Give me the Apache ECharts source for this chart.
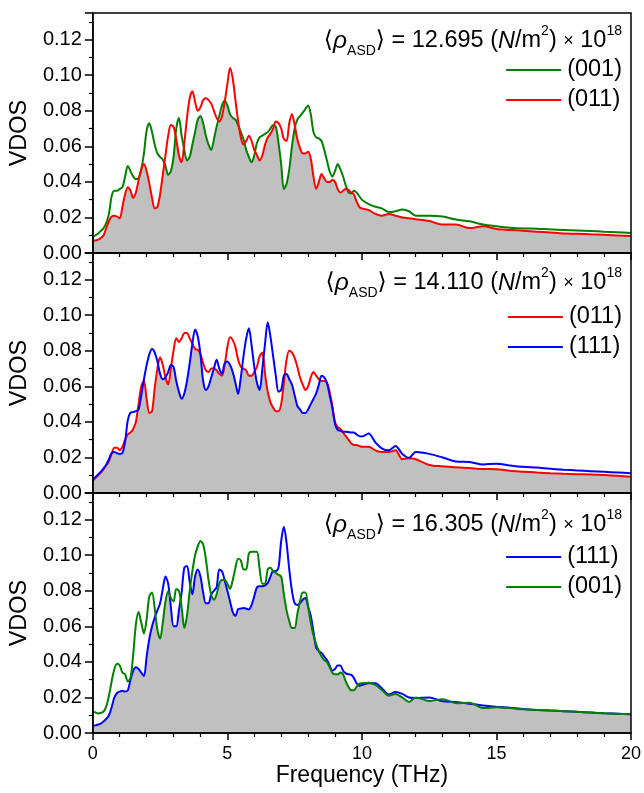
<!DOCTYPE html>
<html>
<head>
<meta charset="utf-8">
<script src="https://cdn.jsdelivr.net/npm/echarts@6/dist/echarts.min.js"></script>
<style>
html, body { margin: 0; padding: 0; background: #fff; }
#main { width: 644px; height: 793px; }
</style>
</head>
<body>
<div id="main"></div>
<script>
// frequency grid (THz), shared by every curve
const freq = [
  0, 0.1, 0.2, 0.3, 0.4, 0.5, 0.6, 0.7, 0.8, 0.9,
  1.0, 1.1, 1.2, 1.3, 1.4, 1.5, 1.6, 1.7, 1.8, 1.9,
  2.0, 2.1, 2.2, 2.3, 2.4, 2.5, 2.6, 2.7, 2.8, 2.9,
  3.0, 3.1, 3.2, 3.3, 3.4, 3.5, 3.6, 3.7, 3.8, 3.9,
  4.0, 4.1, 4.2, 4.3, 4.4, 4.5, 4.6, 4.7, 4.8, 4.9,
  5.0, 5.1, 5.2, 5.3, 5.4, 5.5, 5.6, 5.7, 5.8, 5.9,
  6.0, 6.1, 6.2, 6.3, 6.4, 6.5, 6.6, 6.7, 6.8, 6.9,
  7.0, 7.1, 7.2, 7.3, 7.4, 7.5, 7.6, 7.7, 7.8, 7.9,
  8.0, 8.1, 8.2, 8.3, 8.4, 8.5, 8.6, 8.7, 8.8, 8.9,
  9.0, 9.1, 9.2, 9.3, 9.4, 9.5, 9.6, 9.7, 9.8, 9.9,
  10.0, 10.25, 10.5, 10.75, 11.0, 11.25, 11.5, 11.75, 12.0,
  12.5, 13.0, 13.5, 14.0, 14.5, 15.0, 15.5, 16.0, 16.5, 17.0, 17.5, 18.0, 18.5, 19.0, 19.5, 20.0
];

// top panel, rho = 12.695
const p1_001 = [
  0.009, 0.010, 0.011, 0.0125, 0.014, 0.017, 0.022, 0.032, 0.035, 0.035,
  0.036, 0.037, 0.043, 0.049, 0.046, 0.043, 0.0415, 0.042, 0.047, 0.056,
  0.069, 0.073, 0.068, 0.061, 0.056, 0.054, 0.0525, 0.049, 0.044, 0.046,
  0.054, 0.070, 0.076, 0.066, 0.058, 0.052, 0.054, 0.061, 0.068, 0.075,
  0.077, 0.073, 0.066, 0.061, 0.058, 0.064, 0.071, 0.077, 0.083, 0.0856,
  0.083, 0.078, 0.076, 0.075, 0.072, 0.068, 0.064, 0.058, 0.054, 0.051,
  0.055, 0.062, 0.065, 0.066, 0.067, 0.068, 0.070, 0.072, 0.071, 0.062,
  0.050, 0.036, 0.039, 0.047, 0.060, 0.070, 0.075, 0.077, 0.079, 0.081,
  0.083, 0.078, 0.068, 0.065, 0.0645, 0.063, 0.058, 0.052, 0.046, 0.043,
  0.046, 0.050, 0.047, 0.043, 0.038, 0.034, 0.0335, 0.035, 0.034, 0.032,
  0.030, 0.0275, 0.026, 0.025, 0.023, 0.0235, 0.0245, 0.0235, 0.021,
  0.021, 0.0205, 0.0188, 0.0178, 0.016, 0.015, 0.0142, 0.0138, 0.0137, 0.0133, 0.013, 0.0127, 0.0124, 0.012, 0.0117, 0.0113
];
const p1_011 = [
  0.007, 0.007, 0.0075, 0.0085, 0.010, 0.014, 0.018, 0.0205, 0.021, 0.0205,
  0.0195, 0.026, 0.033, 0.037, 0.035, 0.031, 0.034, 0.041, 0.047, 0.050,
  0.046, 0.039, 0.031, 0.025, 0.026, 0.033, 0.044, 0.055, 0.066, 0.072,
  0.071, 0.064, 0.055, 0.051, 0.062, 0.076, 0.087, 0.091, 0.085, 0.080,
  0.082, 0.086, 0.087, 0.086, 0.084, 0.080, 0.076, 0.074, 0.077, 0.085,
  0.095, 0.104, 0.098, 0.086, 0.074, 0.065, 0.061, 0.063, 0.066, 0.063,
  0.058, 0.055, 0.052, 0.055, 0.061, 0.065, 0.067, 0.070, 0.074, 0.073,
  0.070, 0.064, 0.063, 0.073, 0.078, 0.072, 0.064, 0.059, 0.056, 0.056,
  0.057, 0.053, 0.043, 0.036, 0.040, 0.0444, 0.042, 0.040, 0.040, 0.041,
  0.040, 0.036, 0.034, 0.035, 0.036, 0.0355, 0.034, 0.033, 0.029, 0.026,
  0.025, 0.0242, 0.022, 0.021, 0.022, 0.021, 0.020, 0.0195, 0.019,
  0.018, 0.016, 0.016, 0.014, 0.015, 0.0135, 0.013, 0.0125, 0.012, 0.0115, 0.011, 0.0108, 0.0105, 0.0103, 0.0099, 0.0095
];

// middle panel, rho = 14.110
const p2_011 = [
  0.007, 0.0085, 0.010, 0.0115, 0.0135, 0.0155, 0.018, 0.022, 0.0255, 0.0255,
  0.024, 0.026, 0.030, 0.033, 0.034, 0.036, 0.040, 0.050, 0.060, 0.063,
  0.053, 0.045, 0.046, 0.059, 0.070, 0.0763, 0.072, 0.065, 0.061, 0.070,
  0.080, 0.087, 0.085, 0.087, 0.090, 0.090, 0.087, 0.084, 0.081, 0.0805,
  0.078, 0.073, 0.069, 0.068, 0.070, 0.070, 0.069, 0.067, 0.066, 0.072,
  0.082, 0.0876, 0.086, 0.082, 0.075, 0.071, 0.070, 0.069, 0.066, 0.066,
  0.068, 0.071, 0.077, 0.079, 0.067, 0.057, 0.051, 0.048, 0.046, 0.046,
  0.050, 0.062, 0.075, 0.080, 0.079, 0.076, 0.071, 0.065, 0.061, 0.058,
  0.060, 0.065, 0.068, 0.066, 0.064, 0.063, 0.063, 0.062, 0.057, 0.049,
  0.040, 0.037, 0.036, 0.034, 0.032, 0.030, 0.028, 0.027, 0.027, 0.0265,
  0.026, 0.026, 0.024, 0.023, 0.023, 0.024, 0.019, 0.0195, 0.019,
  0.0158, 0.015, 0.0145, 0.014, 0.0135, 0.0134, 0.0125, 0.012, 0.0115, 0.0111, 0.0108, 0.0106, 0.0104, 0.0101, 0.0097, 0.0092
];
const p2_111 = [
  0.0075, 0.009, 0.0105, 0.012, 0.0138, 0.016, 0.019, 0.0225, 0.023, 0.0224,
  0.022, 0.0225, 0.029, 0.041, 0.0452, 0.0455, 0.046, 0.047, 0.055, 0.064,
  0.072, 0.078, 0.081, 0.079, 0.074, 0.067, 0.064, 0.065, 0.068, 0.072,
  0.071, 0.063, 0.057, 0.053, 0.056, 0.063, 0.073, 0.084, 0.092, 0.088,
  0.078, 0.063, 0.058, 0.060, 0.065, 0.070, 0.075, 0.070, 0.067, 0.073,
  0.074, 0.072, 0.068, 0.062, 0.0557, 0.065, 0.077, 0.087, 0.0927, 0.083,
  0.071, 0.062, 0.058, 0.070, 0.084, 0.096, 0.088, 0.077, 0.066, 0.057,
  0.058, 0.066, 0.067, 0.064, 0.061, 0.055, 0.049, 0.047, 0.045, 0.045,
  0.047, 0.050, 0.053, 0.056, 0.061, 0.066, 0.065, 0.062, 0.055, 0.048,
  0.039, 0.0355, 0.035, 0.0345, 0.0345, 0.0343, 0.034, 0.034, 0.033, 0.032,
  0.0318, 0.0335, 0.0285, 0.025, 0.024, 0.0265, 0.022, 0.0198, 0.023,
  0.022, 0.020, 0.0177, 0.0175, 0.016, 0.0165, 0.0155, 0.0147, 0.0143, 0.0136, 0.0131, 0.0127, 0.0123, 0.0119, 0.0115, 0.0111
];

// bottom panel, rho = 16.305
const p3_111 = [
  0.004, 0.0043, 0.0048, 0.0053, 0.0065, 0.008, 0.010, 0.0145, 0.020, 0.0225,
  0.0233, 0.0237, 0.0233, 0.024, 0.030, 0.035, 0.037, 0.036, 0.034, 0.032,
  0.043, 0.053, 0.060, 0.065, 0.069, 0.073, 0.081, 0.088, 0.084, 0.071,
  0.060, 0.060, 0.069, 0.079, 0.093, 0.094, 0.085, 0.078, 0.088, 0.092,
  0.088, 0.079, 0.073, 0.073, 0.078, 0.080, 0.082, 0.092, 0.091, 0.086,
  0.080, 0.074, 0.068, 0.066, 0.0697, 0.070, 0.0703, 0.070, 0.0695, 0.072,
  0.077, 0.082, 0.0825, 0.0825, 0.083, 0.0844, 0.088, 0.091, 0.091, 0.093,
  0.108, 0.116, 0.107, 0.092, 0.080, 0.073, 0.072, 0.073, 0.075, 0.076,
  0.071, 0.066, 0.057, 0.048, 0.046, 0.045, 0.043, 0.041, 0.038, 0.035,
  0.036, 0.038, 0.038, 0.035, 0.0335, 0.033, 0.0328, 0.031, 0.028, 0.0266,
  0.027, 0.028, 0.028, 0.025, 0.0216, 0.023, 0.022, 0.020, 0.0197,
  0.020, 0.0178, 0.0175, 0.0164, 0.0155, 0.0148, 0.0142, 0.0135, 0.013, 0.0126, 0.0123, 0.0119, 0.0115, 0.0111, 0.0108, 0.0105
];
const p3_001 = [
  0.012, 0.0115, 0.011, 0.0113, 0.012, 0.015, 0.021, 0.029, 0.036, 0.039,
  0.038, 0.034, 0.033, 0.029, 0.031, 0.044, 0.061, 0.068, 0.062, 0.056,
  0.064, 0.077, 0.079, 0.070, 0.058, 0.053, 0.062, 0.074, 0.0797, 0.076,
  0.074, 0.081, 0.080, 0.071, 0.059, 0.066, 0.080, 0.091, 0.100, 0.105,
  0.108, 0.106, 0.098, 0.086, 0.078, 0.075, 0.078, 0.084, 0.086, 0.086,
  0.084, 0.081, 0.086, 0.093, 0.098, 0.097, 0.092, 0.092, 0.101, 0.102,
  0.102, 0.102, 0.092, 0.084, 0.084, 0.092, 0.093, 0.091, 0.090, 0.089,
  0.088, 0.078, 0.069, 0.063, 0.059, 0.059, 0.067, 0.074, 0.079, 0.079,
  0.071, 0.062, 0.055, 0.050, 0.046, 0.043, 0.041, 0.040, 0.037, 0.034,
  0.033, 0.033, 0.034, 0.033, 0.029, 0.026, 0.024, 0.024, 0.026, 0.0276,
  0.028, 0.0283, 0.027, 0.024, 0.021, 0.022, 0.020, 0.0175, 0.020,
  0.018, 0.019, 0.0168, 0.017, 0.014, 0.0145, 0.014, 0.0133, 0.013, 0.0127, 0.0123, 0.0119, 0.0115, 0.0111, 0.0108, 0.0105
];

const rhoLabels = ['12.695', '14.110', '16.305'];
const GREEN = '#008000', RED = '#ff0000', BLUE = '#0000ff';
const FONT = '"Liberation Sans", Arial, "DejaVu Sans", sans-serif';

const panels = [
    { rho: rhoLabels[0], curves: [['(001)', p1_001, GREEN], ['(011)', p1_011, RED]], top: 13, textTop: 24, legendTop: 53 },
    { rho: rhoLabels[1], curves: [['(011)', p2_011, RED], ['(111)', p2_111, BLUE]], top: 253, textTop: 266, legendTop: 300 },
    { rho: rhoLabels[2], curves: [['(111)', p3_111, BLUE], ['(001)', p3_001, GREEN]], top: 493, textTop: 508, legendTop: 540 }
];

const chart = echarts.init(document.getElementById('main'));

const grids = [], xAxes = [], yAxes = [], series = [], legends = [], titles = [];

panels.forEach((p, k) => {
    const last = k === panels.length - 1;
    grids.push({
        left: 91, right: 13, top: p.top, height: 240,
        show: true, borderColor: '#000', borderWidth: 1.5, backgroundColor: 'transparent', z: 10
    });
    xAxes.push({
        type: 'value', gridIndex: k, min: 0, max: 20, interval: 5, z: 10,
        axisLine: { show: true, onZero: false, lineStyle: { color: '#000', width: 1.5 } },
        axisTick: { show: true, inside: false, length: 7, lineStyle: { color: '#000', width: 1.5 } },
        minorTick: { show: true, splitNumber: 5, length: 4, lineStyle: { color: '#000', width: 1.2 } },
        splitLine: { show: false },
        axisLabel: { show: last, fontSize: 18, color: '#000', fontFamily: FONT, margin: 12 },
        name: last ? 'Frequency (THz)' : '',
        nameLocation: 'middle', nameGap: 30,
        nameTextStyle: { fontSize: 23, color: '#000', fontFamily: FONT }
    });
    yAxes.push({
        type: 'value', gridIndex: k, min: 0, max: 0.135, interval: 0.02, z: 10,
        axisLine: { show: true, lineStyle: { color: '#000', width: 1.5 } },
        axisTick: { show: true, inside: false, length: 8, lineStyle: { color: '#000', width: 1.5 } },
        minorTick: { show: true, splitNumber: 2, length: 4, lineStyle: { color: '#000', width: 1.2 } },
        splitLine: { show: false },
        axisLabel: {
            fontSize: 20, color: '#000', fontFamily: FONT, margin: 11,
            formatter: v => (v > 0.125 ? '' : v.toFixed(2))
        },
        name: 'VDOS', nameLocation: 'middle', nameGap: 55, nameRotate: 90,
        nameTextStyle: { fontSize: 23.5, color: '#000', fontFamily: FONT }
    });

    // grey area under the lower of the two curves
    const a = p.curves[0][1], b = p.curves[1][1];
    series.push({
        type: 'line', name: 'fill' + k, xAxisIndex: k, yAxisIndex: k,
        data: freq.map((f, i) => [f, Math.min(a[i], b[i])]),
        smooth: 0.3, symbol: 'none', silent: true, z: 1,
        lineStyle: { width: 0 },
        areaStyle: { color: '#c0c0c0', opacity: 1 }
    });
    p.curves.forEach(([name, vals, color]) => {
        series.push({
            type: 'line', name, xAxisIndex: k, yAxisIndex: k,
            data: freq.map((f, i) => [f, vals[i]]),
            smooth: 0.3, symbol: 'none', z: 3,
            itemStyle: { color }, lineStyle: { color, width: 2 }
        });
    });

    legends.push({
        orient: 'vertical', right: 17, top: p.legendTop,
        itemWidth: 55, itemHeight: 2, itemGap: 6, selectedMode: false,
        data: p.curves.map(c => ({ name: c[0], icon: 'rect' })),
        textStyle: { fontSize: 23.5, color: '#000', fontFamily: FONT, padding: [0, 0, 0, 1] }
    });

    const base = { color: '#000', fontFamily: FONT, fontWeight: 'normal' };
    titles.push({
        right: 22, top: p.textTop, padding: 0,
        text: '{t|\u27e8}{rho|\u03c1}{sub|ASD}{t|\u27e9 = ' + p.rho + ' (}{it|N}{t|/m}{sup|2}{t|) }{x|\u00d7}{t| 10}{sup|18}',
        textStyle: {
            fontWeight: 'normal',
            rich: {
                t: { ...base, fontSize: 23.5, lineHeight: 34 },
                rho: { ...base, fontSize: 24.5, fontStyle: 'italic', lineHeight: 34 },
                it: { ...base, fontSize: 23.5, fontStyle: 'italic', lineHeight: 34 },
                x: { ...base, fontSize: 18, lineHeight: 34 },
                sub: { ...base, fontSize: 14, verticalAlign: 'bottom', lineHeight: 14 },
                sup: { ...base, fontSize: 14, verticalAlign: 'top', lineHeight: 14 }
            }
        }
    });
});

const option = {
    backgroundColor: '#fff',
    animation: false,
    title: titles,
    legend: legends,
    grid: grids,
    xAxis: xAxes,
    yAxis: yAxes,
    series: series
};

option && chart.setOption(option);
</script>
</body>
</html>
